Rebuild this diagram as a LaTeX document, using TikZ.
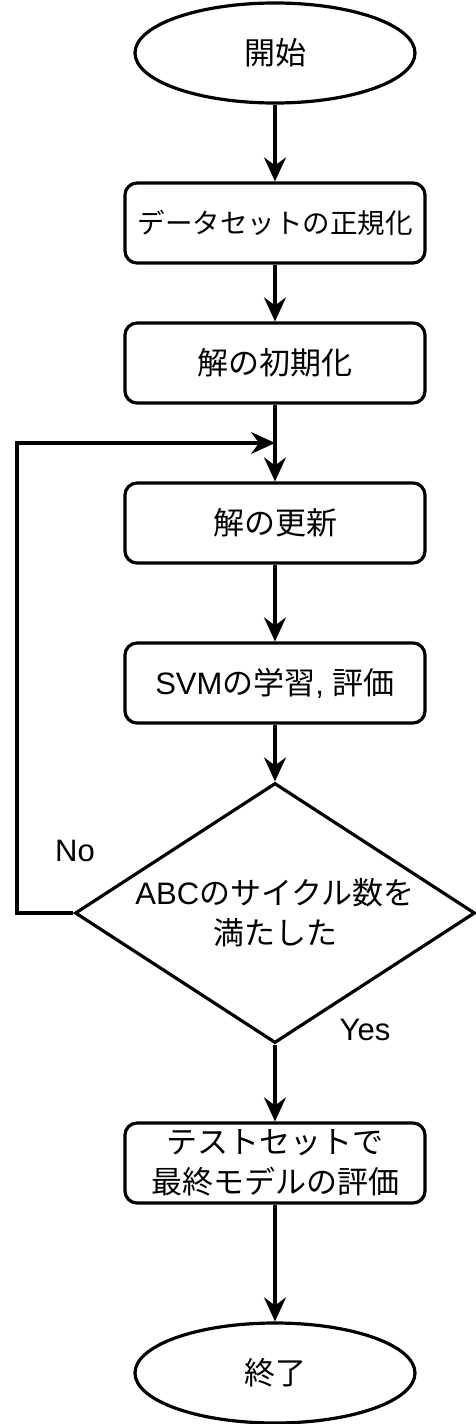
\documentclass[tikz,border=0pt]{standalone}
\usepackage{fontspec}
\setmainfont{Liberation Sans}
\newfontfamily\jp{Noto Sans CJK JP}
\usetikzlibrary{shapes.geometric,arrows.meta}
\begin{document}
\begin{tikzpicture}[x=1pt,y=-1pt,
  base/.style={draw, line width=3.2pt, font=\fontsize{31}{40}\selectfont, inner sep=0pt, align=center},
  term/.style={base, ellipse, minimum width=280pt, minimum height=100pt},
  proc/.style={base, rounded corners=12pt, minimum width=300pt, minimum height=80pt},
  decision/.style={base, diamond, minimum width=400pt, minimum height=260pt},
  txt/.style={font=\fontsize{31}{40}\selectfont, inner sep=0pt, align=center},
  link/.style={line width=3.2pt, -{Stealth[length=24pt,width=22pt,inset=8pt]}}]
\fill[white] (0,0) rectangle (476,1424);
\useasboundingbox (0,0) rectangle (476,1424);
\node[term] (start) at (275,53) {{\jp 開始}};
\node[proc, font=\fontsize{27.5}{33}\selectfont] (norm) at (275,223) {{\jp データセットの正規化}};
\node[proc] (init) at (275,363) {{\jp 解の初期化}};
\node[proc] (update) at (275,523) {{\jp 解の更新}};
\node[proc] (svm) at (275,683) {SVM{\jp の学習}, {\jp 評価}};
\node[decision] (dec) at (275,913) {};
\node[txt] (dectext) at (275,913) {ABC{\jp のサイクル数を}\\{\jp 満たした}};
\node[proc] (test) at (275,1163) {{\jp テストセットで}\\{\jp 最終モデルの評価}};
\node[term] (finish) at (275,1373) {{\jp 終了}};
\node[txt] (no) at (75,851) {No};
\node[txt] (yes) at (365,1030) {Yes};
\coordinate (loopA) at (17,913);
\coordinate (loopB) at (17,443);
\coordinate (merge) at (275,443);
\draw[link] (start) -- (norm);
\draw[link] (norm) -- (init);
\draw[link] (init) -- (update);
\draw[link] (update) -- (svm);
\draw[link] (svm) -- (dec.north);
\draw[link] (dec.south) -- (test);
\draw[link] (test) -- (finish);
\draw[link] (dec.west) -- (loopA) -- (loopB) -- (merge);
\end{tikzpicture}
\end{document}
